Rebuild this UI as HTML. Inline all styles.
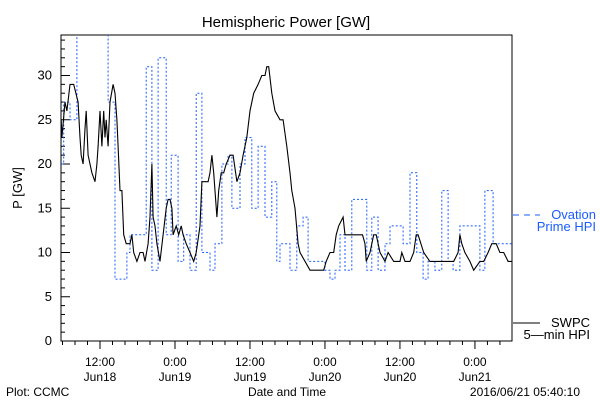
<!DOCTYPE html>
<html><head><meta charset="utf-8">
<style>
html,body{margin:0;padding:0;background:#fff;}
svg{display:block;font-family:"Liberation Sans",sans-serif;}
</style></head>
<body>
<svg id="chart" width="600" height="400" viewBox="0 0 600 400" xmlns="http://www.w3.org/2000/svg">
<defs><clipPath id="pc"><rect x="61" y="35" width="451" height="306"/></clipPath></defs>
<rect width="600" height="400" fill="#fff"/>
<text x="286" y="27" font-size="15" text-anchor="middle">Hemispheric Power [GW]</text>
<text transform="translate(22,188) rotate(-90)" font-size="13" text-anchor="middle">P [GW]</text>
<g id="axes"></g>
<g id="series" clip-path="url(#pc)"></g>
<text x="287" y="396" font-size="12" text-anchor="middle">Date and Time</text>
<text x="6" y="396" font-size="12">Plot: CCMC</text>
<text x="580" y="396" font-size="12" text-anchor="end">2016/06/21 05:40:10</text>
<g>
<line x1="513" y1="215" x2="540" y2="215" stroke="#1a5cff" stroke-width="1" stroke-dasharray="6,5"/>
<text x="596" y="219" font-size="13" fill="#1a5cff" text-anchor="end">Ovation</text>
<text x="596" y="231" font-size="13" fill="#1a5cff" text-anchor="end">Prime HPI</text>
</g>
<g>
<line x1="513" y1="323" x2="540" y2="323" stroke="#000" stroke-width="1"/>
<text x="590" y="327" font-size="13" text-anchor="end">SWPC</text>
<text x="590" y="339" font-size="13" text-anchor="end">5—min HPI</text>
</g>
</svg>
<script>
// hours since 2016-06-18 00:00
const swpcTimes=[5.8,5.9,6.4,6.7,7.2,7.8,8.5,8.8,9.0,9.3,9.6,9.8,10.1,10.4,10.7,11.2,11.5,11.7,12.0,12.3,12.6,12.8,13.0,13.3,13.6,14.1,14.4,14.7,14.9,15.2,15.5,15.8,16.2,16.8,17.1,17.4,17.9,18.4,18.9,19.2,19.7,20.0,20.3,20.5,20.8,21.1,21.6,22.1,22.6,22.9,23.2,23.5,23.7,24.2,24.6,25.0,25.3,25.8,26.4,27.0,27.4,28.0,28.3,29.3,29.6,29.9,30.2,30.7,31.0,31.4,31.8,32.2,32.8,33.3,33.9,34.4,34.9,35.5,36.0,36.6,37.3,37.9,38.4,38.7,39.0,39.5,40.0,40.8,41.3,41.9,42.4,42.7,43.2,43.7,44.0,45.6,47.5,47.8,48.2,48.8,49.4,49.8,50.2,50.9,51.2,52.0,54.0,54.4,54.6,55.2,55.8,56.2,56.8,57.6,58.1,59.0,60.0,60.3,60.8,61.6,62.2,62.6,62.9,63.8,64.8,66.4,68.6,69.3,69.6,69.9,70.4,71.2,71.8,72.8,73.4,74.1,74.7,75.4,76.0,76.6,77.3,77.9];
const swpcValues=[25,23,27,26,29,29,27,23,21,20,24,26,21,20,19,18,20,22,26,22,26,23,25,22,27,29,28,25,22,17,17,12,11,11,12,10,9,10,10,9,11,14,20,14,13,11,9,12,15,16,16,15,12,13,12,13,12,11,10,9,10,13,18,18,19,21,19,14,17,19,19,20,21,21,18,19,21,23,26,28,29,30,30,31,31,28,26,25,25,22,19,17,15,11,10,8,8,8,9,10,10,12,13,14,12,12,12,11,9,10,12,12,10,9,10,9,9,10,9,9,10,12,12,10,9,9,9,10,12,11,10,9,8,9,9,10,11,11,10,10,9,9];
const ovationTimes=[5.8,6.2,7.2,8.3,13.3,14.4,16.3,16.8,19.4,20.3,21.3,22.6,23.4,24.5,25.4,26.4,27.4,28.3,29.6,30.4,31.5,32.5,33.1,34.4,35.2,36.3,37.3,38.4,39.5,40.3,40.8,42.4,43.5,44.5,45.3,47.2,48.0,48.8,49.6,50.4,51.2,52.3,54.7,55.5,56.5,57.6,58.4,60.5,61.6,62.7,63.7,64.5,65.6,66.7,67.7,68.5,69.6,72.8,73.6,74.9];
const ovationValues=[20,27,25,36,27,7,10,12,31,8,32,12,21,9,12,8,28,10,8,11,20,21,15,20,23,15,22,14,18,9,11,8,13,14,9,9,8,7,8,12,8,16,8,14,8,11,13,11,19,10,7,9,8,17,9,8,13,8,17,11];
const ovationEnd=77.9;
const yTickLabels=["0","5","10","15","20","25","30"];
const xTickHours=[12,24,36,48,60,72];
const xTickTimes=["12:00","0:00","12:00","0:00","12:00","0:00"];
const xTickDates=["Jun18","Jun19","Jun19","Jun20","Jun20","Jun21"];

const L=61,R=512,T=35,B=341,H0=5.76,HR=77.93;
const x=h=>L+(h-H0)*(R-L)/(HR-H0);
const y=v=>B-v*8.85;
const NS="http://www.w3.org/2000/svg";
const axes=document.getElementById('axes'),series=document.getElementById('series');
function mk(tag,attrs,parent){const e=document.createElementNS(NS,tag);for(const k in attrs)e.setAttribute(k,attrs[k]);parent.appendChild(e);return e;}

const box=mk('rect',{x:L,y:T,width:R-L,height:B-T,fill:'none',stroke:'#000','stroke-width':1},axes);


for(let v=0;v<=34;v++){
  const major=v%5===0;
  const t=mk('line',{x1:L,x2:L+(major?9:4),y1:y(v),y2:y(v),stroke:'#000'},axes);
  
  
}
yTickLabels.forEach((s,i)=>{
  const t=mk('text',{x:L-9,y:y(i*5)+4,'font-size':13,'text-anchor':'end'},axes);
  t.textContent=s;
  
  
});
for(let h=6;h<=HR;h+=2){
  const major=h%12===0;
  const t=mk('line',{x1:x(h),x2:x(h),y1:B,y2:B+(major?8:4),stroke:'#000'},axes);
  
  
}
xTickHours.forEach((h,i)=>{
  const a=mk('text',{x:x(h),y:366,'font-size':12,'text-anchor':'middle'},axes);
  a.textContent=xTickTimes[i];
  
  
  const b=mk('text',{x:x(h),y:381,'font-size':12,'text-anchor':'middle'},axes);
  b.textContent=xTickDates[i];
  
  
});

// Ovation step line
let d='';
ovationTimes.forEach((t,i)=>{
  const t2=i<ovationTimes.length-1?ovationTimes[i+1]:ovationEnd;
  d+=(i===0?'M':'L')+x(t).toFixed(1)+','+y(ovationValues[i]).toFixed(1)+'L'+x(t2).toFixed(1)+','+y(ovationValues[i]).toFixed(1);
});
const ov=mk('path',{d:d,fill:'none',stroke:'#1a5cff','stroke-width':1,'stroke-dasharray':'2,2'},series);



// SWPC line
const pts=swpcTimes.map((t,i)=>x(t).toFixed(1)+','+y(swpcValues[i]).toFixed(1)).join(' ');
const sw=mk('polyline',{points:pts,fill:'none',stroke:'#000','stroke-width':1.1},series);


</script>
</body></html>
